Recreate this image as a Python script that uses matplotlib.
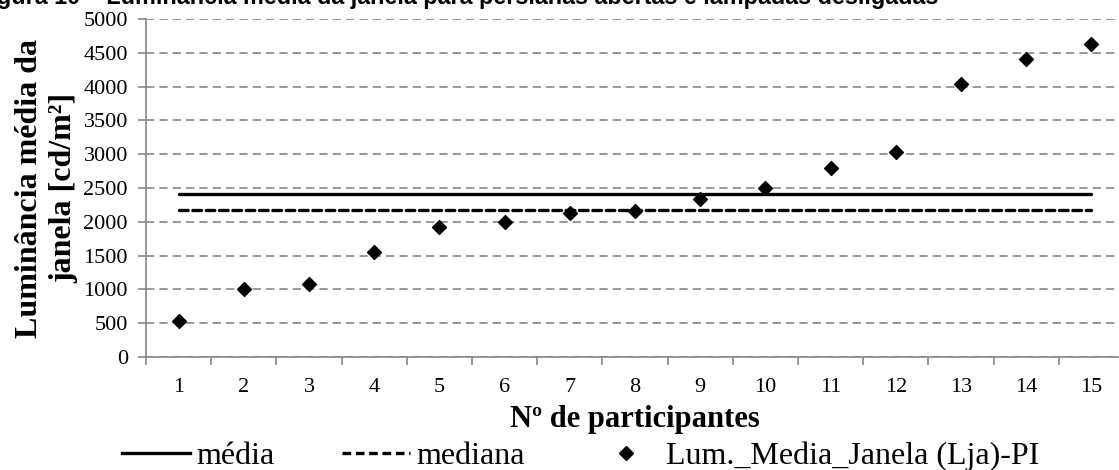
import numpy as np
import matplotlib.pyplot as plt
from matplotlib.lines import Line2D

# dados
participantes = list(range(1, 16))
lum_janela = [537, 1010, 1080, 1558, 1928, 2002, 2135, 2164, 2342, 2505,
              2796, 3033, 4034, 4404, 4630]
media = 2415
mediana = 2168

W, H = 1119, 470
fig = plt.figure(figsize=(W / 100, H / 100), dpi=100)
plt.rcParams['font.family'] = 'Liberation Serif'

# eixo: da esquerda 146px ate 1124px (sai da imagem a direita), y 19..357
ax = fig.add_axes([146 / W, (H - 357) / H, 978 / W, 338 / H])

x = np.array(participantes)
ax.plot([x[0], x[-1]], [media, media], color='black', lw=2.4, solid_capstyle='round', zorder=3)
ax.plot([x[0], x[-1]], [mediana, mediana], color='black', lw=2.4, ls=(0, (2.6, 1.4)),
        dash_capstyle='round', zorder=3)
ax.scatter(x, lum_janela, marker='D', s=50, color='black', zorder=4)

ax.set_xlim(0.5, 15.5)
ax.set_ylim(0, 5000)
ax.set_yticks(np.arange(0, 5001, 500))
ax.set_xticks(np.arange(0.5, 15.6, 1))
ax.set_xticklabels([])
ax.set_xticks(x, minor=True)
ax.set_xticklabels([str(i) for i in participantes], minor=True)

ax.tick_params(axis='y', direction='out', length=6, width=1.2, color='#868686',
               labelsize=16, pad=7)
ax.tick_params(axis='x', which='major', direction='out', length=6, width=1.2,
               color='#868686')
ax.tick_params(axis='x', which='minor', length=0, labelsize=16, pad=15)

ax.grid(axis='y', color='#868686', lw=1.2, ls=(0, (5, 3)))
ax.set_axisbelow(True)
for s in ['top', 'right']:
    ax.spines[s].set_visible(False)
for s in ['left', 'bottom']:
    ax.spines[s].set_color('#868686')
    ax.spines[s].set_linewidth(1.2)

ax.set_xlabel('Nº de participantes', fontsize=22, fontweight='bold', labelpad=6)
ax.set_ylabel('Luminância média da\njanela [cd/m²]', fontsize=23, fontweight='bold',
              labelpad=4, linespacing=1.2)

handles = [
    Line2D([], [], color='black', lw=2.4),
    Line2D([], [], color='black', lw=2.4, ls=(0, (2.6, 1.4))),
    Line2D([], [], color='black', marker='D', ls='none', markersize=7),
]
fig.legend(handles, ['média', 'mediana', 'Lum._Media_Janela (Lja)-PI'],
           loc='center left', bbox_to_anchor=(122 / W, (H - 456) / H), ncol=3,
           frameon=False, fontsize=23, handlelength=2.13, handletextpad=0.2,
           columnspacing=2.1, borderpad=0, borderaxespad=0)

fig.text(938 / W, (H - 4) / H,
         'Figura 10 – Luminância média da janela para persianas abertas e lâmpadas desligadas',
         ha='right', va='baseline', fontsize=16.8, fontweight='bold',
         family='Liberation Sans')

fig.savefig('out.png', dpi=100)
